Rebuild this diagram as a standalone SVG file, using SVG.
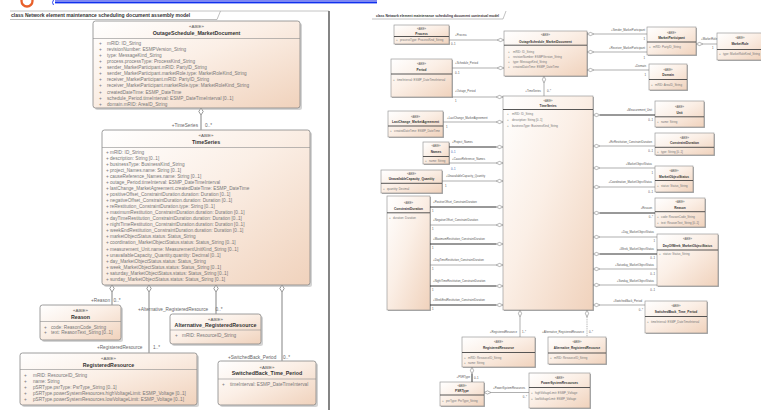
<svg xmlns="http://www.w3.org/2000/svg" width="761" height="410" viewBox="0 0 761 410">
<defs>
<linearGradient id="g" x1="0" y1="0" x2="1" y2="1">
<stop offset="0" stop-color="#ffffff"/>
<stop offset="0.45" stop-color="#fbefe6"/>
<stop offset="1" stop-color="#f0d2bc"/>
</linearGradient>
</defs>
<style>
.box{fill:url(#g);stroke:#858585;stroke-width:0.8}
.sh{fill:#b0b0b0;opacity:.55}
.sep{stroke:#8d8d8d;stroke-width:0.6}
.st{font-family:"Liberation Sans",Arial,sans-serif;font-size:4.4px;fill:#555;text-anchor:middle}
.nm{font-family:"Liberation Sans",Arial,sans-serif;font-size:5.3px;font-weight:bold;fill:#333;text-anchor:middle}
.at{font-family:"Liberation Sans",Arial,sans-serif;font-size:4.7px;fill:#777}
.lb{font-family:"Liberation Sans",Arial,sans-serif;font-size:4.7px;fill:#666}
.ttl{font-family:"Liberation Sans",Arial,sans-serif;font-size:5px;font-weight:bold;fill:#333}
.rttl{font-family:"Liberation Sans",Arial,sans-serif;font-size:3.4px;font-weight:bold;fill:#333}
.con{stroke:#a0a0a0;stroke-width:1.3;fill:none}
.dia{fill:#fff;stroke:#8c8c8c;stroke-width:0.9}
.rbox{fill:url(#g);stroke:#8a8a8a;stroke-width:0.6}
.rsh{fill:#7a7a7a;opacity:.6}
.rsep{stroke:#444;stroke-width:0.9}
.rst{font-family:"Liberation Sans",Arial,sans-serif;font-size:2.7px;fill:#555;text-anchor:middle}
.rnm{font-family:"Liberation Sans",Arial,sans-serif;font-size:3.2px;font-weight:bold;fill:#333;text-anchor:middle}
.rat{font-family:"Liberation Sans",Arial,sans-serif;font-size:2.9px;fill:#777}
.rlb{font-family:"Liberation Sans",Arial,sans-serif;font-size:2.8px;fill:#555}
.end{text-anchor:end}
.blu{fill:#3a5fb0}
.rcon{stroke:#7a7a7a;stroke-width:0.6;fill:none}
.rk{stroke:#333;stroke-width:1}
.rdia{fill:#fff;stroke:#666;stroke-width:0.5}
</style>

<!-- top fragments -->
<circle cx="27" cy="1" r="5.5" fill="none" stroke="#e8602a" stroke-width="2.3"/>
<path d="M53.5,0 Q51.5,2.5 53.5,5" fill="none" stroke="#1030ee" stroke-width="0.9"/>
<rect x="55" y="0" width="322" height="1.8" fill="#7f88f2"/>
<rect x="55" y="1.8" width="322" height="1.6" fill="#1030ee"/>

<!-- left frame -->
<g id="frame-left">
<line x1="10" y1="11" x2="329" y2="11" stroke="#b5b5b5" stroke-width="0.8"/>
<path d="M10,19.5 H217 L220.5,11" fill="none" stroke="#a5a5a5" stroke-width="0.7"/>
<line x1="329" y1="11" x2="329" y2="410" stroke="#666" stroke-width="1.6"/>
<text class="ttl" x="11" y="17.3">class Network element maintenance scheduling document assembly model</text>
</g>

<!-- LEFT DIAGRAM NODES -->
<g id="n-doc">
<rect class="sh" x="95" y="23" width="207" height="87" rx="2.5"/>
<rect class="box" x="93" y="21" width="207" height="87" rx="2.5"/>
<text class="st" x="196.5" y="27.8">«ABIE»</text>
<text class="nm" x="196.5" y="35">OutageSchedule_MarketDocument</text>
<line class="sep" x1="93" y1="38.5" x2="300" y2="38.5"/>
<text class="at" y="44.7"><tspan x="99">+</tspan><tspan x="107">mRID: ID_String</tspan></text>
<text class="at" y="50.8"><tspan x="99">+</tspan><tspan x="107">revisionNumber: ESMPVersion_String</tspan></text>
<text class="at" y="56.9"><tspan x="99">+</tspan><tspan x="107">type: MessageKind_String</tspan></text>
<text class="at" y="63"><tspan x="99">+</tspan><tspan x="107">process.processType: ProcessKind_String</tspan></text>
<text class="at" y="69.1"><tspan x="99">+</tspan><tspan x="107">sender_MarketParticipant.mRID: PartyID_String</tspan></text>
<text class="at" y="75.2"><tspan x="99">+</tspan><tspan x="107">sender_MarketParticipant.marketRole.type: MarketRoleKind_String</tspan></text>
<text class="at" y="81.3"><tspan x="99">+</tspan><tspan x="107">receiver_MarketParticipant.mRID: PartyID_String</tspan></text>
<text class="at" y="87.4"><tspan x="99">+</tspan><tspan x="107">receiver_MarketParticipant.marketRole.type: MarketRoleKind_String</tspan></text>
<text class="at" y="93.5"><tspan x="99">+</tspan><tspan x="107">createdDateTime: ESMP_DateTime</tspan></text>
<text class="at" y="99.6"><tspan x="99">+</tspan><tspan x="107">schedule_Period.timeInterval: ESMP_DateTimeInterval [0..1]</tspan></text>
<text class="at" y="105.7"><tspan x="99">+</tspan><tspan x="107">domain.mRID: AreaID_String</tspan></text>
</g>

<g id="n-timeseries">
<rect class="sh" x="104" y="132" width="208" height="155" rx="2.5"/>
<rect class="box" x="102" y="130" width="208" height="155" rx="2.5"/>
<text class="st" x="206" y="136.8">«ABIE»</text>
<text class="nm" x="206" y="144">TimeSeries</text>
<line class="sep" x1="102" y1="147.5" x2="310" y2="147.5"/>
<text class="at" y="153.7"><tspan x="106">+</tspan><tspan x="110">mRID: ID_String</tspan></text>
<text class="at" y="159.75"><tspan x="106">+</tspan><tspan x="110">description: String [0..1]</tspan></text>
<text class="at" y="165.8"><tspan x="106">+</tspan><tspan x="110">businessType: BusinessKind_String</tspan></text>
<text class="at" y="171.85"><tspan x="106">+</tspan><tspan x="110">project_Names.name: String [0..1]</tspan></text>
<text class="at" y="177.9"><tspan x="106">+</tspan><tspan x="110">causeReference_Names.name: String [0..1]</tspan></text>
<text class="at" y="183.95"><tspan x="106">+</tspan><tspan x="110">outage_Period.timeInterval: ESMP_DateTimeInterval</tspan></text>
<text class="at" y="190"><tspan x="106">+</tspan><tspan x="110">lastChange_MarketAgreement.createdDateTime: ESMP_DateTime</tspan></text>
<text class="at" y="196.05"><tspan x="106">+</tspan><tspan x="110">positiveOffset_ConstraintDuration.duration: Duration [0..1]</tspan></text>
<text class="at" y="202.1"><tspan x="106">+</tspan><tspan x="110">negativeOffset_ConstraintDuration.duration: Duration [0..1]</tspan></text>
<text class="at" y="208.15"><tspan x="106">+</tspan><tspan x="110">reRestitution_ConstraintDuration.type: String [0..1]</tspan></text>
<text class="at" y="214.2"><tspan x="106">+</tspan><tspan x="110">maximumRestitution_ConstraintDuration.duration: Duration [0..1]</tspan></text>
<text class="at" y="220.25"><tspan x="106">+</tspan><tspan x="110">dayTimeRestitution_ConstraintDuration.duration: Duration [0..1]</tspan></text>
<text class="at" y="226.3"><tspan x="106">+</tspan><tspan x="110">nightTimeRestitution_ConstraintDuration.duration: Duration [0..1]</tspan></text>
<text class="at" y="232.35"><tspan x="106">+</tspan><tspan x="110">weekEndRestitution_ConstraintDuration.duration: Duration [0..1]</tspan></text>
<text class="at" y="238.4"><tspan x="106">+</tspan><tspan x="110">marketObjectStatus.status: Status_String</tspan></text>
<text class="at" y="244.45"><tspan x="106">+</tspan><tspan x="110">coordination_MarketObjectStatus.status: Status_String [0..1]</tspan></text>
<text class="at" y="250.5"><tspan x="106">+</tspan><tspan x="110">measurement_Unit.name: MeasurementUnitKind_String [0..1]</tspan></text>
<text class="at" y="256.55"><tspan x="106">+</tspan><tspan x="110">unavailableCapacity_Quantity.quantity: Decimal [0..1]</tspan></text>
<text class="at" y="262.6"><tspan x="106">+</tspan><tspan x="110">day_MarketObjectStatus.status: Status_String</tspan></text>
<text class="at" y="268.65"><tspan x="106">+</tspan><tspan x="110">week_MarketObjectStatus.status: Status_String [0..1]</tspan></text>
<text class="at" y="274.7"><tspan x="106">+</tspan><tspan x="110">saturday_MarketObjectStatus.status: Status_String [0..1]</tspan></text>
<text class="at" y="280.75"><tspan x="106">+</tspan><tspan x="110">sunday_MarketObjectStatus.status: Status_String [0..1]</tspan></text>
</g>

<g id="n-reason">
<rect class="sh" x="42" y="307" width="81" height="35" rx="2.5"/>
<rect class="box" x="40" y="305" width="81" height="35" rx="2.5"/>
<text class="st" x="80.5" y="311.8">«ABIE»</text>
<text class="nm" x="80.5" y="318.5">Reason</text>
<line class="sep" x1="40" y1="321.5" x2="121" y2="321.5"/>
<text class="at" y="328.5"><tspan x="44">+</tspan><tspan x="51">code: ReasonCode_String</tspan></text>
<text class="at" y="334.3"><tspan x="44">+</tspan><tspan x="51">text: ReasonText_String [0..1]</tspan></text>
</g>

<g id="n-alt-rr">
<rect class="sh" x="172" y="316" width="91" height="30" rx="2.5"/>
<rect class="box" x="170" y="314" width="91" height="30" rx="2.5"/>
<text class="st" x="215.5" y="320.5">«ABIE»</text>
<text class="nm" x="215.5" y="327">Alternative_RegisteredResource</text>
<line class="sep" x1="170" y1="330" x2="261" y2="330"/>
<text class="at" y="337.2"><tspan x="175">+</tspan><tspan x="182">mRID: ResourceID_String</tspan></text>
</g>

<g id="n-rr">
<rect class="sh" x="22" y="355" width="177" height="52" rx="2.5"/>
<rect class="box" x="20" y="353" width="177" height="52" rx="2.5"/>
<text class="st" x="108.5" y="359.8">«ABIE»</text>
<text class="nm" x="108.5" y="366.5">RegisteredResource</text>
<line class="sep" x1="20" y1="369.5" x2="197" y2="369.5"/>
<text class="at" y="376.7"><tspan x="24">+</tspan><tspan x="33">mRID: ResourceID_String</tspan></text>
<text class="at" y="382.7"><tspan x="24">+</tspan><tspan x="33">name: String</tspan></text>
<text class="at" y="388.7"><tspan x="24">+</tspan><tspan x="33">pSRType.psrType: PsrType_String [0..1]</tspan></text>
<text class="at" y="394.7"><tspan x="24">+</tspan><tspan x="33">pSRType.powerSystemResources.highVoltageLimit: ESMP_Voltage [0..1]</tspan></text>
<text class="at" y="400.7"><tspan x="24">+</tspan><tspan x="33">pSRType.powerSystemResources.lowVoltageLimit: ESMP_Voltage [0..1]</tspan></text>
</g>

<g id="n-switchedback">
<rect class="sh" x="220" y="363" width="98" height="44" rx="2.5"/>
<rect class="box" x="218" y="361" width="98" height="44" rx="2.5"/>
<text class="st" x="267" y="368.7">«ABIE»</text>
<text class="nm" x="267" y="375">SwitchedBack_Time_Period</text>
<line class="sep" x1="218" y1="379" x2="316" y2="379"/>
<text class="at" y="385.7"><tspan x="222">+</tspan><tspan x="230">timeInterval: ESMP_DateTimeInterval</tspan></text>
</g>

<!-- LEFT DIAGRAM CONNECTORS -->
<g id="connectors-left">
<line class="con" x1="201" y1="115" x2="201" y2="130"/>
<path class="dia" d="M201,108 L203.2,111.5 L201,115 L198.8,111.5 Z"/>
<text class="lb end" x="198" y="126.7">+TimeSeries</text>
<text class="lb" x="205" y="126.7">0..*</text>

<line class="con" x1="112" y1="292" x2="112" y2="305"/>
<path class="dia" d="M112,285 L114.2,288.5 L112,292 L109.8,288.5 Z"/>
<text class="lb end" x="110" y="301.6">+Reason</text>
<text class="lb" x="113.5" y="301.6">0..*</text>

<line class="con" x1="149" y1="292" x2="149" y2="353"/>
<path class="dia" d="M149,285 L151.2,288.5 L149,292 L146.8,288.5 Z"/>
<text class="lb" x="97" y="349.2">+RegisteredResource</text>
<text class="lb" x="153" y="349.2">1..*</text>

<line class="con" x1="216" y1="292" x2="216" y2="314"/>
<path class="dia" d="M216,285 L218.2,288.5 L216,292 L213.8,288.5 Z"/>
<text class="lb" x="138" y="310.5">+Alternative_RegisteredResource</text>
<text class="lb" x="215.5" y="310.5">0..*</text>

<line class="con" x1="282" y1="292" x2="282" y2="361"/>
<path class="dia" d="M282,285 L284.2,288.5 L282,292 L279.8,288.5 Z"/>
<text class="lb" x="228" y="358.8">+SwitchedBack_Period</text>
<text class="lb" x="283" y="358.8">0..*</text>
</g>

<!-- RIGHT FRAME TITLE -->
<g id="frame-right">
<path d="M372,19 H503 L506,11" fill="none" stroke="#999" stroke-width="0.6"/>
<text class="rttl" x="376" y="16.5">class Network element maintenance scheduling document contextual model</text>
</g>

<!-- RIGHT DIAGRAM NODES -->
<g id="r-process">
<rect class="rsh" x="395" y="26" width="55" height="19"/>
<rect class="rbox" x="394" y="25" width="55" height="19"/>
<text class="rst" x="421.5" y="30.3">«ABIE»</text>
<text class="rnm" x="421.5" y="34.5">Process</text>
<line class="rsep" x1="394" y1="36.5" x2="449" y2="36.5"/>
<text class="rat" y="41.2"><tspan x="396">+</tspan><tspan x="400">processType: ProcessKind_String</tspan></text>
</g>

<g id="r-period">
<rect class="rsh" x="392" y="60" width="61" height="38"/>
<rect class="rbox" x="391" y="59" width="61" height="38"/>
<text class="rst" x="421.5" y="64.8">«ABIE»</text>
<text class="rnm" x="421.5" y="71">Period</text>
<line class="rsep" x1="391" y1="74" x2="452" y2="74"/>
<text class="rat" y="80.8"><tspan x="393">+</tspan><tspan x="397">timeInterval: ESMP_DateTimeInterval</tspan></text>
</g>

<g id="r-doc">
<rect class="rsh" x="505" y="32" width="83" height="45"/>
<rect class="rbox" x="504" y="31" width="83" height="45"/>
<text class="rst" x="545.5" y="36.2">«ABIE»</text>
<text class="rnm" x="545.5" y="42.6">OutageSchedule_MarketDocument</text>
<line class="rsep" x1="504" y1="45.2" x2="587" y2="45.2"/>
<text class="rat" y="52.8"><tspan x="508">+</tspan><tspan x="513">mRID: ID_String</tspan></text>
<text class="rat" y="57.9"><tspan x="508">+</tspan><tspan x="513">revisionNumber: ESMPVersion_String</tspan></text>
<text class="rat" y="63.2"><tspan x="508">+</tspan><tspan x="513">type: MessageKind_String</tspan></text>
<text class="rat" y="68.4"><tspan x="508">+</tspan><tspan x="513">createdDateTime: ESMP_DateTime</tspan></text>
</g>

<g id="r-timeseries">
<rect class="rsh" x="504" y="97" width="90" height="214"/>
<rect class="rbox" x="503" y="96" width="90" height="214"/>
<text class="rst" x="548" y="101.5">«ABIE»</text>
<text class="rnm" x="548" y="106.8">TimeSeries</text>
<line class="rsep" x1="503" y1="109.5" x2="593" y2="109.5"/>
<text class="rat" y="114.5"><tspan x="507">+</tspan><tspan x="512">mRID: ID_String</tspan></text>
<text class="rat" y="120.5"><tspan x="507">+</tspan><tspan x="512">description: String [0..1]</tspan></text>
<text class="rat" y="126.8"><tspan x="507">+</tspan><tspan x="512">businessType: BusinessKind_String</tspan></text>
</g>

<g id="r-marketparticipant">
<rect class="rsh" x="648" y="28" width="49" height="28"/>
<rect class="rbox" x="647" y="27" width="49" height="28"/>
<text class="rst" x="671.5" y="34">«ABIE»</text>
<text class="rnm" x="671.5" y="39.3">MarketParticipant</text>
<line class="rsep" x1="647" y1="42" x2="696" y2="42"/>
<text class="rat" y="48.3"><tspan x="649">+</tspan><tspan x="653">mRID: PartyID_String</tspan></text>
</g>

<g id="r-marketrole">
<rect class="rsh" x="718" y="34" width="46" height="27"/>
<rect class="rbox" x="717" y="33" width="46" height="27"/>
<text class="rst" x="740" y="39.3">«ABIE»</text>
<text class="rnm" x="740" y="45.3">MarketRole</text>
<line class="rsep" x1="717" y1="49.5" x2="763" y2="49.5"/>
<text class="rat" y="55"><tspan x="719">+</tspan><tspan x="723">type: MarketRoleKind_String</tspan></text>
</g>

<g id="r-domain">
<rect class="rsh" x="650" y="65" width="38" height="26"/>
<rect class="rbox" x="649" y="64" width="38" height="26"/>
<text class="rst" x="668" y="71">«ABIE»</text>
<text class="rnm" x="668" y="76.3">Domain</text>
<line class="rsep" x1="649" y1="79.5" x2="687" y2="79.5"/>
<text class="rat" y="86"><tspan x="651">+</tspan><tspan x="655">mRID: AreaID_String</tspan></text>
</g>

<g id="r-lastchange">
<rect class="rsh" x="389" y="112" width="55" height="26"/>
<rect class="rbox" x="388" y="111" width="55" height="26"/>
<text class="rst" x="415.5" y="117.8">«ABIE»</text>
<text class="rnm" x="415.5" y="122.8">LastChange_MarketAgreement</text>
<line class="rsep" x1="388" y1="126" x2="443" y2="126"/>
<text class="rat" y="131.8"><tspan x="390">+</tspan><tspan x="394">createdDateTime: ESMP_DateTime</tspan></text>
</g>

<g id="r-names">
<rect class="rsh" x="424" y="143" width="26" height="22"/>
<rect class="rbox" x="423" y="142" width="26" height="22"/>
<text class="rst" x="436" y="147">«ABIE»</text>
<text class="rnm" x="436" y="152.5">Names</text>
<line class="rsep" x1="423" y1="156.5" x2="449" y2="156.5"/>
<text class="rat" y="161.8"><tspan x="425">+</tspan><tspan x="429">name: String</tspan></text>
</g>

<g id="r-quantity">
<rect class="rsh" x="382" y="171" width="61" height="23"/>
<rect class="rbox" x="381" y="170" width="61" height="23"/>
<text class="rst" x="411.5" y="175.3">«ABIE»</text>
<text class="rnm" x="411.5" y="180.3">UnavailableCapacity_Quantity</text>
<line class="rsep" x1="381" y1="183.3" x2="442" y2="183.3"/>
<text class="rat" y="190"><tspan x="383">+</tspan><tspan x="387">quantity: Decimal</tspan></text>
</g>

<g id="r-constraintduration">
<rect class="rsh" x="388" y="197" width="43" height="114"/>
<rect class="rbox" x="387" y="196" width="43" height="114"/>
<text class="rst" x="408.5" y="203.8">«ABIE»</text>
<text class="rnm" x="408.5" y="209.5">ConstraintDuration</text>
<line class="rsep" x1="387" y1="212.8" x2="430" y2="212.8"/>
<text class="rat" y="218.5"><tspan x="389">+</tspan><tspan x="393">duration: Duration</tspan></text>
</g>

<g id="r-unit">
<rect class="rsh" x="656" y="102" width="49" height="26"/>
<rect class="rbox" x="655" y="101" width="49" height="26"/>
<text class="rst" x="679.5" y="107.8">«ABIE»</text>
<text class="rnm" x="679.5" y="113.5">Unit</text>
<line class="rsep" x1="655" y1="116.8" x2="704" y2="116.8"/>
<text class="rat" y="122.5"><tspan x="657">+</tspan><tspan x="661">name: String</tspan></text>
</g>

<g id="r-restitution">
<rect class="rsh" x="656" y="134" width="59" height="22"/>
<rect class="rbox" x="655" y="133" width="59" height="22"/>
<text class="rst" x="684.5" y="138.5">«ABIE»</text>
<text class="rnm" x="684.5" y="144.3">ConstraintDuration</text>
<line class="rsep" x1="655" y1="147.3" x2="714" y2="147.3"/>
<text class="rat" y="153"><tspan x="657">+</tspan><tspan x="661">type: String [0..1]</tspan></text>
</g>

<g id="r-marketobjectstatus">
<rect class="rsh" x="656" y="167" width="38" height="26"/>
<rect class="rbox" x="655" y="166" width="38" height="26"/>
<text class="rst" x="674" y="172.3">«ABIE»</text>
<text class="rnm" x="674" y="177.7">MarketObjectStatus</text>
<line class="rsep" x1="655" y1="180.5" x2="693" y2="180.5"/>
<text class="rat" y="186.8"><tspan x="657">+</tspan><tspan x="661">status: Status_String</tspan></text>
</g>

<g id="r-reason">
<rect class="rsh" x="656" y="199" width="50" height="29"/>
<rect class="rbox" x="655" y="198" width="50" height="29"/>
<text class="rst" x="680" y="203">«ABIE»</text>
<text class="rnm" x="680" y="208.8">Reason</text>
<line class="rsep" x1="655" y1="211.7" x2="705" y2="211.7"/>
<text class="rat" y="217.6"><tspan x="657">+</tspan><tspan x="661">code: ReasonCode_String</tspan></text>
<text class="rat" y="223.8"><tspan x="657">+</tspan><tspan x="661">text: ReasonText_String [0..1]</tspan></text>
</g>

<g id="r-dayofweek">
<rect class="rsh" x="658" y="235" width="61" height="52"/>
<rect class="rbox" x="657" y="234" width="61" height="52"/>
<text class="rst" x="687.5" y="240.3">«ABIE»</text>
<text class="rnm" x="687.5" y="246.8">DayOfWeek_MarketObjectStatus</text>
<line class="rsep" x1="657" y1="250" x2="718" y2="250"/>
<text class="rat" y="255.3"><tspan x="659">+</tspan><tspan x="663">status: Status_String</tspan></text>
</g>

<g id="r-switchedback">
<rect class="rsh" x="646" y="302" width="62" height="32"/>
<rect class="rbox" x="645" y="301" width="62" height="32"/>
<text class="rst" x="676" y="307">«ABIE»</text>
<text class="rnm" x="676" y="313">SwitchedBack_Time_Period</text>
<line class="rsep" x1="645" y1="316.5" x2="707" y2="316.5"/>
<text class="rat" y="322.5"><tspan x="647">+</tspan><tspan x="651">timeInterval: ESMP_DateTimeInterval</tspan></text>
</g>

<g id="r-registeredresource">
<rect class="rsh" x="463" y="338" width="73" height="30"/>
<rect class="rbox" x="462" y="337" width="73" height="30"/>
<text class="rst" x="498.5" y="343.3">«ABIE»</text>
<text class="rnm" x="498.5" y="349">RegisteredResource</text>
<line class="rsep" x1="462" y1="352.5" x2="535" y2="352.5"/>
<text class="rat" y="358.5"><tspan x="464">+</tspan><tspan x="468">mRID: ResourceID_String</tspan></text>
<text class="rat" y="363.8"><tspan x="464">+</tspan><tspan x="468">name: String</tspan></text>
</g>

<g id="r-alternative">
<rect class="rsh" x="549" y="338" width="58" height="27"/>
<rect class="rbox" x="548" y="337" width="58" height="27"/>
<text class="rst" x="577" y="343.3">«ABIE»</text>
<text class="rnm" x="577" y="349.3" style="font-size:3px">Alternative_RegisteredResource</text>
<line class="rsep" x1="548" y1="353" x2="606" y2="353"/>
<text class="rat" y="358.5"><tspan x="550">+</tspan><tspan x="554">mRID: ResourceID_String</tspan></text>
</g>

<g id="r-psrtype">
<rect class="rsh" x="441" y="383" width="44" height="24"/>
<rect class="rbox" x="440" y="382" width="44" height="24"/>
<text class="rst" x="462" y="387">«ABIE»</text>
<text class="rnm" x="462" y="392">PSRType</text>
<line class="rsep" x1="440" y1="395" x2="484" y2="395"/>
<text class="rat" y="401.5"><tspan x="442">+</tspan><tspan x="446">psrType: PsrType_String</tspan></text>
</g>

<g id="r-powersystemresources">
<rect class="rsh" x="530" y="374" width="61" height="35"/>
<rect class="rbox" x="529" y="373" width="61" height="35"/>
<text class="rst" x="559.5" y="378.5">«ABIE»</text>
<text class="rnm" x="559.5" y="384.3">PowerSystemResources</text>
<line class="rsep" x1="529" y1="387.5" x2="590" y2="387.5"/>
<text class="rat" y="393.8"><tspan x="531">+</tspan><tspan x="535">highVoltageLimit: ESMP_Voltage</tspan></text>
<text class="rat" y="399.8"><tspan x="531">+</tspan><tspan x="535">lowVoltageLimit: ESMP_Voltage</tspan></text>
</g>

<!-- RIGHT DIAGRAM CONNECTORS -->
<g id="connectors-right">
<!-- into document -->
<line class="rcon" x1="449" y1="40" x2="497" y2="40"/>
<path class="rdia" d="M504,40 l-3.5,-1.6 l-3.5,1.6 l3.5,1.6 z"/>
<text class="rlb" x="455" y="36.3">+Process</text>
<text class="rlb" x="451" y="44.8">0..1</text>

<line class="rcon" x1="452" y1="68" x2="497" y2="68"/>
<path class="rdia" d="M504,68 l-3.5,-1.6 l-3.5,1.6 l3.5,1.6 z"/>
<text class="rlb" x="455" y="63.8">+Schedule_Period</text>
<text class="rlb" x="455" y="74">0..1</text>

<line class="rcon" x1="544" y1="83" x2="544" y2="96"/>
<path class="rdia" d="M544,76 l1.6,3.5 l-1.6,3.5 l-1.6,-3.5 z"/>
<text class="rlb end" x="541" y="92">+TimeSeries</text>
<text class="rlb" x="547" y="92">0..*</text>

<line class="rcon" x1="594" y1="34" x2="647" y2="34"/>
<path class="rdia" d="M587,34 l3.5,-1.6 l3.5,1.6 l-3.5,1.6 z"/>
<text class="rlb end" x="645" y="30.5">+Sender_MarketParticipant</text>
<text class="rlb end" x="645" y="40">1</text>

<line class="rcon" x1="594" y1="52" x2="647" y2="52"/>
<path class="rdia" d="M587,52 l3.5,-1.6 l3.5,1.6 l-3.5,1.6 z"/>
<text class="rlb end" x="645" y="48.7">+Receiver_MarketParticipant</text>
<text class="rlb end" x="645" y="58.5">1</text>

<line class="rcon" x1="594" y1="70" x2="649" y2="70"/>
<path class="rdia" d="M587,70 l3.5,-1.6 l3.5,1.6 l-3.5,1.6 z"/>
<text class="rlb end" x="646" y="66.5">+Domain</text>
<text class="rlb end" x="646" y="76">1</text>

<line class="rcon" x1="703" y1="44" x2="717" y2="44"/>
<path class="rdia" d="M696,44 l3.5,-1.6 l3.5,1.6 l-3.5,1.6 z"/>
<text class="rlb" x="701" y="40.3">+MarketRole</text>
<text class="rlb" x="712" y="49">1</text>

<!-- left side of TimeSeries -->
<line class="rcon" x1="452" y1="97" x2="496" y2="97"/>
<path class="rdia" d="M503,97 l-3.5,-1.6 l-3.5,1.6 l3.5,1.6 z"/>
<text class="rlb" x="455" y="92.3">+Outage_Period</text>
<text class="rlb" x="455" y="101.8">1</text>

<line class="rcon" x1="443" y1="122" x2="496" y2="122"/>
<path class="rdia" d="M503,122 l-3.5,-1.6 l-3.5,1.6 l3.5,1.6 z"/>
<text class="rlb" x="447" y="118.5">+LastChange_MarketAgreement</text>
<text class="rlb" x="446" y="128">1</text>

<line class="rcon rk" x1="449" y1="147" x2="496" y2="147"/>
<path class="rdia" d="M503,147 l-3.5,-1.6 l-3.5,1.6 l3.5,1.6 z"/>
<text class="rlb" x="452" y="143.2">+Project_Names</text>
<text class="rlb blu" x="451" y="152.8">0..1</text>

<line class="rcon" x1="449" y1="163" x2="496" y2="163"/>
<path class="rdia" d="M503,163 l-3.5,-1.6 l-3.5,1.6 l3.5,1.6 z"/>
<text class="rlb" x="452" y="160">+CauseReference_Names</text>
<text class="rlb blu" x="451" y="170">0..1</text>

<line class="rcon" x1="442" y1="181" x2="496" y2="181"/>
<path class="rdia" d="M503,181 l-3.5,-1.6 l-3.5,1.6 l3.5,1.6 z"/>
<text class="rlb" x="446" y="177">+UnavailableCapacity_Quantity</text>
<text class="rlb" x="445" y="187">1</text>

<line class="rcon rk" x1="430" y1="207" x2="496" y2="207"/>
<path class="rdia" d="M503,207 l-3.5,-1.6 l-3.5,1.6 l3.5,1.6 z"/>
<text class="rlb" x="433" y="202.5">+PositiveOffset_ConstraintDuration</text>
<text class="rlb" x="432" y="212">1</text>

<line class="rcon" x1="430" y1="225" x2="496" y2="225"/>
<path class="rdia" d="M503,225 l-3.5,-1.6 l-3.5,1.6 l3.5,1.6 z"/>
<text class="rlb" x="433" y="220.5">+NegativeOffset_ConstraintDuration</text>
<text class="rlb" x="432" y="230">1</text>

<line class="rcon rk" x1="430" y1="244" x2="496" y2="244"/>
<path class="rdia" d="M503,244 l-3.5,-1.6 l-3.5,1.6 l3.5,1.6 z"/>
<text class="rlb" x="433" y="239.5">+MaximumRestitution_ConstraintDuration</text>
<text class="rlb" x="432" y="249">1</text>

<line class="rcon" x1="430" y1="265" x2="496" y2="265"/>
<path class="rdia" d="M503,265 l-3.5,-1.6 l-3.5,1.6 l3.5,1.6 z"/>
<text class="rlb" x="433" y="260.5">+DayTimeRestitution_ConstraintDuration</text>
<text class="rlb" x="432" y="270">1</text>

<line class="rcon rk" x1="430" y1="286" x2="496" y2="286"/>
<path class="rdia" d="M503,286 l-3.5,-1.6 l-3.5,1.6 l3.5,1.6 z"/>
<text class="rlb" x="433" y="281.5">+NightTimeRestitution_ConstraintDuration</text>
<text class="rlb" x="432" y="291">1</text>

<line class="rcon rk" x1="430" y1="305" x2="496" y2="305"/>
<path class="rdia" d="M503,305 l-3.5,-1.6 l-3.5,1.6 l3.5,1.6 z"/>
<text class="rlb" x="433" y="300.5">+WeekEndRestitution_ConstraintDuration</text>
<text class="rlb" x="432" y="310">1</text>

<!-- right side of TimeSeries -->
<line class="rcon rk" x1="600" y1="115" x2="655" y2="115"/>
<path class="rdia" d="M593,115 l3.5,-1.6 l3.5,1.6 l-3.5,1.6 z"/>
<text class="rlb end" x="652" y="111">+Measurement_Unit</text>
<text class="rlb end" x="653" y="120.5">0..1</text>

<line class="rcon" x1="600" y1="146" x2="655" y2="146"/>
<path class="rdia" d="M593,146 l3.5,-1.6 l3.5,1.6 l-3.5,1.6 z"/>
<text class="rlb end" x="652" y="142.5">+ReRestitution_ConstraintDuration</text>
<text class="rlb end" x="653" y="152">0..1</text>

<line class="rcon" x1="600" y1="168" x2="655" y2="168"/>
<path class="rdia" d="M593,168 l3.5,-1.6 l3.5,1.6 l-3.5,1.6 z"/>
<text class="rlb end" x="652" y="164.5">+MarketObjectStatus</text>
<text class="rlb end" x="653" y="173.5">1</text>

<line class="rcon" x1="600" y1="187" x2="655" y2="187"/>
<path class="rdia" d="M593,187 l3.5,-1.6 l3.5,1.6 l-3.5,1.6 z"/>
<text class="rlb end" x="652" y="183.3">+Coordination_MarketObjectStatus</text>
<text class="rlb end" x="653" y="192.5">0..1</text>

<line class="rcon rk" x1="600" y1="213" x2="655" y2="213"/>
<path class="rdia" d="M593,213 l3.5,-1.6 l3.5,1.6 l-3.5,1.6 z"/>
<text class="rlb end" x="652" y="209.3">+Reason</text>
<text class="rlb end" x="653" y="218">0..*</text>

<line class="rcon" x1="600" y1="237" x2="657" y2="237"/>
<path class="rdia" d="M593,237 l3.5,-1.6 l3.5,1.6 l-3.5,1.6 z"/>
<text class="rlb end" x="654" y="232.7">+Day_MarketObjectStatus</text>
<text class="rlb end" x="655" y="242">1</text>

<line class="rcon rk" x1="600" y1="254" x2="657" y2="254"/>
<path class="rdia" d="M593,254 l3.5,-1.6 l3.5,1.6 l-3.5,1.6 z"/>
<text class="rlb end" x="654" y="249.5">+Week_MarketObjectStatus</text>
<text class="rlb end" x="655" y="259">0..1</text>

<line class="rcon" x1="600" y1="269" x2="657" y2="269"/>
<path class="rdia" d="M593,269 l3.5,-1.6 l3.5,1.6 l-3.5,1.6 z"/>
<text class="rlb end" x="654" y="266">+Saturday_MarketObjectStatus</text>
<text class="rlb end" x="655" y="274.5">0..1</text>

<line class="rcon" x1="600" y1="285" x2="657" y2="285"/>
<path class="rdia" d="M593,285 l3.5,-1.6 l3.5,1.6 l-3.5,1.6 z"/>
<text class="rlb end" x="654" y="281.7">+Sunday_MarketObjectStatus</text>
<text class="rlb end" x="655" y="290.5">0..1</text>

<line class="rcon" x1="600" y1="305" x2="645" y2="305"/>
<path class="rdia" d="M593,305 l3.5,-1.6 l3.5,1.6 l-3.5,1.6 z"/>
<text class="rlb end" x="642" y="301.5">+SwitchedBack_Period</text>
<text class="rlb end" x="643" y="310.5">0..*</text>

<!-- bottom of TimeSeries -->
<line class="rcon" x1="520" y1="317" x2="520" y2="337"/>
<path class="rdia" d="M520,310 l1.6,3.5 l-1.6,3.5 l-1.6,-3.5 z"/>
<text class="rlb end" x="517" y="333">+RegisteredResource</text>
<text class="rlb" x="522" y="333">1..*</text>

<line class="rcon" x1="587" y1="317" x2="587" y2="337" stroke-dasharray="1,0.8"/>
<path class="rdia" d="M587,310 l1.6,3.5 l-1.6,3.5 l-1.6,-3.5 z"/>
<text class="rlb end" x="584" y="333">+Alternative_RegisteredResource</text>
<text class="rlb" x="589" y="333">0..*</text>

<line class="rcon rk" x1="472" y1="374" x2="472" y2="382"/>
<path class="rdia" d="M472,367 l1.6,3.5 l-1.6,3.5 l-1.6,-3.5 z"/>
<text class="rlb end" x="470" y="378">+PSRType</text>
<text class="rlb" x="474" y="379">0..1</text>

<line class="rcon" x1="491" y1="392.5" x2="529" y2="392.5"/>
<path class="rdia" d="M484,392.5 l3.5,-1.6 l3.5,1.6 l-3.5,1.6 z"/>
<text class="rlb" x="493" y="388.5">+PowerSystemResources</text>
<text class="rlb end" x="527" y="397.5">0..*</text>
</g>
</svg>
